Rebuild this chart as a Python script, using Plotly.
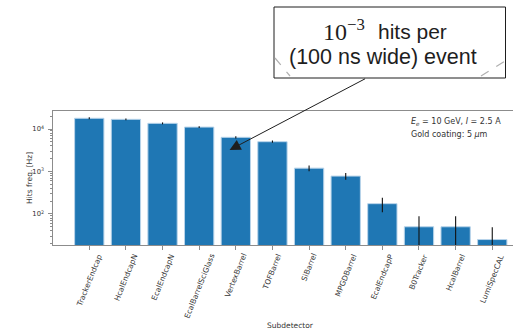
import plotly.graph_objects as go

# Hit rates per subdetector (Ee = 10 GeV, I = 2.5 A, 5 um gold coating)
subdetectors = ["TrackerEndcap", "HcalEndcapN", "EcalEndcapN", "EcalBarrelSciGlass",
                "VertexBarrel", "TOFBarrel", "SiBarrel", "MPGDBarrel", "EcalEndcapP",
                "B0Tracker", "HcalBarrel", "LumiSpecCAL"]
hit_freq = [17900, 16900, 13600, 11100, 6380, 5030, 1200, 780, 175, 50, 50, 25]
hit_err = [900, 850, 700, 550, 400, 300, 180, 140, 65, 38, 38, 24]

ytick_vals = [1e2, 1e3, 1e4]
ytick_text = ["10<sup>2</sup>", "10<sup>3</sup>", "10<sup>4</sup>"]
ytick_minor = [m * 10 ** e for e in (1, 2, 3, 4) for m in range(2, 10)]

W, H = 513, 329
ML, MR, MT, MB = 53, 0, 111, 84
PW, PH = W - ML - MR, H - MT - MB


def px(x):
    return (x - ML) / PW


def py(y):
    return (H - MB - y) / PH


FONT = "DejaVu Sans"
TXT = "#333333"
AX = "#8c8c8c"
INK = "#1e1e1e"

xs = list(range(len(subdetectors)))

fig = go.Figure()
fig.add_trace(go.Bar(
    x=xs, y=hit_freq, width=0.8,
    marker=dict(color="#1f77b4", line=dict(color="#b9d4ea", width=1)),
    error_y=dict(type="data", array=hit_err, color="#111111", thickness=1.1, width=0),
))

annotations = []
# rotated category labels, centred on their ticks
for i, name in enumerate(subdetectors):
    annotations.append(dict(
        x=i, y=0, xref="x", yref="paper", text=name, showarrow=False,
        textangle=-68, xanchor="center", yanchor="top", yshift=-5,
        font=dict(family=FONT, size=7.5, color=TXT),
    ))

annotations += [
    dict(x=px(290), y=py(325), xref="paper", yref="paper", text="Subdetector",
         showarrow=False, xanchor="center", yanchor="middle",
         font=dict(family=FONT, size=7.5, color=TXT)),
    dict(x=px(29), y=py(178), xref="paper", yref="paper", text="Hits freq. [Hz]",
         showarrow=False, textangle=-90, xanchor="center", yanchor="middle",
         font=dict(family=FONT, size=7.5, color=TXT)),
    dict(x=px(409), y=py(122), xref="paper", yref="paper",
         text="<i>E</i><sub><i>e</i></sub> = 10 GeV, <i>I</i> = 2.5 A",
         showarrow=False, xanchor="left", yanchor="middle",
         font=dict(family=FONT, size=8, color=TXT)),
    dict(x=px(409), y=py(134), xref="paper", yref="paper",
         text="Gold coating: 5 <i>μ</i>m",
         showarrow=False, xanchor="left", yanchor="middle",
         font=dict(family=FONT, size=8, color=TXT)),
    # callout text
    dict(x=px(321), y=py(30), xref="paper", yref="paper",
         text="10<sup>−3</sup>",
         showarrow=False, xanchor="left", yanchor="middle",
         font=dict(family="Liberation Serif", size=24, color=INK)),
    dict(x=px(376), y=py(31), xref="paper", yref="paper",
         text="hits per",
         showarrow=False, xanchor="left", yanchor="middle",
         font=dict(family="Liberation Sans", size=21, color=INK)),
    dict(x=px(383), y=py(57), xref="paper", yref="paper",
         text="(100 ns wide) event",
         showarrow=False, xanchor="center", yanchor="middle",
         font=dict(family="Liberation Sans", size=21.5, color=INK)),
    # arrow pointing at the VertexBarrel bar
    dict(x=3.83, y=3.506, xref="x", yref="y", text="", showarrow=True,
         ax=137, ay=-72, arrowhead=2, arrowsize=2.2, arrowwidth=1,
         arrowcolor=INK, standoff=0, startstandoff=0),
]

shapes = [
    dict(type="rect", xref="paper", yref="paper",
         x0=px(274), x1=px(505.5), y0=py(78), y1=py(7),
         line=dict(color=INK, width=1), fillcolor="white", layer="above"),
    dict(type="line", xref="paper", yref="paper",
         x0=px(275), y0=py(58), x1=px(290), y1=py(76),
         line=dict(color="#b0b0b0", width=1.2, dash="dash"), layer="above"),
    dict(type="line", xref="paper", yref="paper",
         x0=px(481), y0=py(76), x1=px(505), y1=py(61),
         line=dict(color="#b0b0b0", width=1.2, dash="dash"), layer="above"),
]

fig.update_layout(
    width=W, height=H,
    margin=dict(l=ML, r=MR, t=MT, b=MB, pad=0),
    paper_bgcolor="white", plot_bgcolor="white",
    showlegend=False,
    annotations=annotations,
    shapes=shapes,
    xaxis=dict(
        range=[-0.99, 11.566], tickvals=xs, showticklabels=False,
        ticks="outside", ticklen=3.5, tickcolor=AX, tickwidth=1,
        showline=True, linecolor=AX, linewidth=1.2, mirror=True,
        showgrid=False, zeroline=False,
    ),
    yaxis=dict(
        type="log", range=[1.27, 4.424],
        tickvals=ytick_vals, ticktext=ytick_text,
        ticks="outside", ticklen=3.5, tickcolor=AX, tickwidth=1,
        ticklabelstandoff=3,
        tickfont=dict(family=FONT, size=6.8, color=TXT),
        minor=dict(tickvals=ytick_minor, ticks="outside", ticklen=2,
                   tickcolor=AX, showgrid=False),
        showline=True, linecolor=AX, linewidth=1.2, mirror=False,
        showgrid=False, zeroline=False,
    ),
)

fig.write_html("out.html")
